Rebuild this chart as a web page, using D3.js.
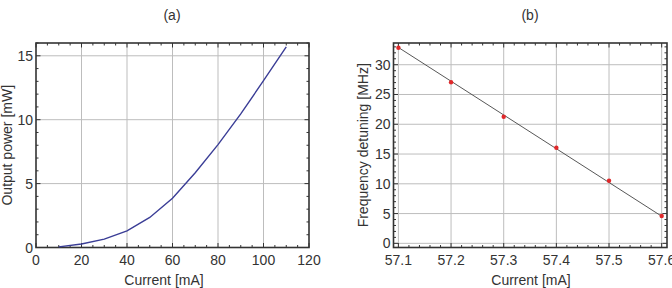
<!DOCTYPE html>
<html>
<head>
<meta charset="utf-8">
<script src="https://cdn.jsdelivr.net/npm/d3@7"></script>
<style>
  body { margin: 0; background: #fff; }
  svg { display: block; font-family: "Liberation Sans", Arial, sans-serif; }
</style>
</head>
<body>
<div id="chart"></div>
<script>
// panel (a): output power vs current
const powerCurrent = [10, 20, 30, 40, 50, 60, 70, 80, 90, 100, 110];
const powerValues = [0.05, 0.27, 0.65, 1.3, 2.35, 3.85, 5.85, 8.05, 10.45, 13.05, 15.7];
const powerXTicks = [0, 20, 40, 60, 80, 100, 120];
const powerYTicks = [0, 5, 10, 15];

// panel (b): frequency detuning vs current
const detuneCurrent = [57.1, 57.2, 57.3, 57.4, 57.5, 57.6];
const detuneValues = [32.85, 27.05, 21.25, 16.05, 10.5, 4.6];
const fitCurrent = [57.1, 57.6];
const fitValues = [32.9, 4.55];
const detuneXTicks = [57.1, 57.2, 57.3, 57.4, 57.5, 57.6];
const detuneYTicks = [0, 5, 10, 15, 20, 25, 30];

const fontSize = 14;

const svg = d3.select("#chart").append("svg")
    .attr("width", 672)
    .attr("height", 288);

// draw one framed panel, Mathematica style
function panel(opt) {
    const x = d3.scaleLinear().domain(opt.xDomain).range([opt.left, opt.right]);
    const y = d3.scaleLinear().domain(opt.yDomain).range([opt.bottom, opt.top]);
    const g = svg.append("g");

    // grid lines
    g.selectAll(".gx").data(opt.xTicks.filter(d => x(d) > opt.left + 1 && x(d) < opt.right - 1))
        .enter().append("line")
        .attr("x1", d => x(d)).attr("x2", d => x(d))
        .attr("y1", opt.top).attr("y2", opt.bottom)
        .attr("stroke", "#bdbdbd").attr("stroke-width", 1);
    g.selectAll(".gy").data(opt.yTicks.filter(d => y(d) > opt.top + 1 && y(d) < opt.bottom - 1))
        .enter().append("line")
        .attr("y1", d => y(d)).attr("y2", d => y(d))
        .attr("x1", opt.left).attr("x2", opt.right)
        .attr("stroke", "#bdbdbd").attr("stroke-width", 1);

    // frame ticks on four sides, inward
    const xm = d3.range(Math.ceil(opt.xDomain[0] / opt.xMinorStep - 1e-6), Math.floor(opt.xDomain[1] / opt.xMinorStep + 1e-6) + 1)
        .map(k => k * opt.xMinorStep);
    const ym = d3.range(Math.ceil(opt.yDomain[0] / opt.yMinorStep - 1e-6), Math.floor(opt.yDomain[1] / opt.yMinorStep + 1e-6) + 1)
        .map(k => k * opt.yMinorStep);
    const isMajor = (v, ticks) => ticks.some(t => Math.abs(t - v) < 1e-6);

    xm.forEach(v => {
        const len = isMajor(v, opt.xTicks) ? 4.5 : 2.5;
        g.append("line").attr("x1", x(v)).attr("x2", x(v))
            .attr("y1", opt.bottom).attr("y2", opt.bottom - len)
            .attr("stroke", "#333").attr("stroke-width", 1);
        g.append("line").attr("x1", x(v)).attr("x2", x(v))
            .attr("y1", opt.top).attr("y2", opt.top + len)
            .attr("stroke", "#333").attr("stroke-width", 1);
    });
    ym.forEach(v => {
        const len = isMajor(v, opt.yTicks) ? 4.5 : 2.5;
        g.append("line").attr("y1", y(v)).attr("y2", y(v))
            .attr("x1", opt.left).attr("x2", opt.left + len)
            .attr("stroke", "#333").attr("stroke-width", 1);
        g.append("line").attr("y1", y(v)).attr("y2", y(v))
            .attr("x1", opt.right).attr("x2", opt.right - len)
            .attr("stroke", "#333").attr("stroke-width", 1);
    });

    // frame
    g.append("rect")
        .attr("x", opt.left).attr("y", opt.top)
        .attr("width", opt.right - opt.left).attr("height", opt.bottom - opt.top)
        .attr("fill", "none").attr("stroke", "#333").attr("stroke-width", 1.6);

    // tick labels
    g.selectAll(".xl").data(opt.xTicks).enter().append("text")
        .attr("x", d => x(d)).attr("y", opt.bottom + 17)
        .attr("text-anchor", "middle")
        .attr("font-size", fontSize).attr("fill", "#333")
        .text(d => opt.xFormat(d));
    g.selectAll(".yl").data(opt.yTicks).enter().append("text")
        .attr("x", opt.left - 3).attr("y", d => y(d) + 5)
        .attr("text-anchor", "end")
        .attr("font-size", fontSize).attr("fill", "#333")
        .text(d => d);

    // axis titles
    g.append("text")
        .attr("x", opt.xLabelX).attr("y", opt.bottom + 37)
        .attr("text-anchor", "middle").attr("font-size", fontSize).attr("fill", "#333")
        .text(opt.xLabel);
    g.append("text")
        .attr("transform", "translate(" + opt.yLabelX + "," + ((opt.top + opt.bottom) / 2) + ") rotate(-90)")
        .attr("text-anchor", "middle").attr("font-size", fontSize).attr("fill", "#333")
        .text(opt.yLabel);

    // panel title
    g.append("text")
        .attr("x", opt.titleX).attr("y", 20)
        .attr("text-anchor", "middle").attr("font-size", fontSize).attr("fill", "#333")
        .text(opt.title);

    return { x: x, y: y, g: g };
}

// (a)
const pa = panel({
    left: 36, right: 309, top: 43, bottom: 247.5,
    xDomain: [0, 120], yDomain: [0, 16],
    xTicks: powerXTicks, yTicks: powerYTicks,
    xMinorStep: 5, yMinorStep: 1,
    xFormat: d => d,
    xLabel: "Current [mA]", xLabelX: 164,
    yLabel: "Output power [mW]", yLabelX: 12,
    title: "(a)", titleX: 172
});

const powerData = powerCurrent.map((c, i) => [c, powerValues[i]]);
pa.g.append("path")
    .datum(powerData)
    .attr("fill", "none")
    .attr("stroke", "#3a3d96")
    .attr("stroke-width", 1.4)
    .attr("d", d3.line().x(d => pa.x(d[0])).y(d => pa.y(d[1])));

// (b)
const pb = panel({
    left: 393.5, right: 667, top: 43, bottom: 247.5,
    xDomain: [57.0907, 57.6101], yDomain: [-0.7, 33.65],
    xTicks: detuneXTicks, yTicks: detuneYTicks,
    xMinorStep: 0.02, yMinorStep: 1,
    xFormat: d => d.toFixed(1),
    xLabel: "Current [mA]", xLabelX: 531,
    yLabel: "Frequency detuning [MHz]", yLabelX: 368,
    title: "(b)", titleX: 530
});

const fitData = fitCurrent.map((c, i) => [c, fitValues[i]]);
pb.g.append("path")
    .datum(fitData)
    .attr("fill", "none")
    .attr("stroke", "#444")
    .attr("stroke-width", 0.9)
    .attr("d", d3.line().x(d => pb.x(d[0])).y(d => pb.y(d[1])));

pb.g.selectAll(".pt")
    .data(detuneCurrent.map((c, i) => [c, detuneValues[i]]))
    .enter().append("circle")
    .attr("cx", d => pb.x(d[0]))
    .attr("cy", d => pb.y(d[1]))
    .attr("r", 2.2)
    .attr("fill", "#e0282a");
</script>
</body>
</html>
